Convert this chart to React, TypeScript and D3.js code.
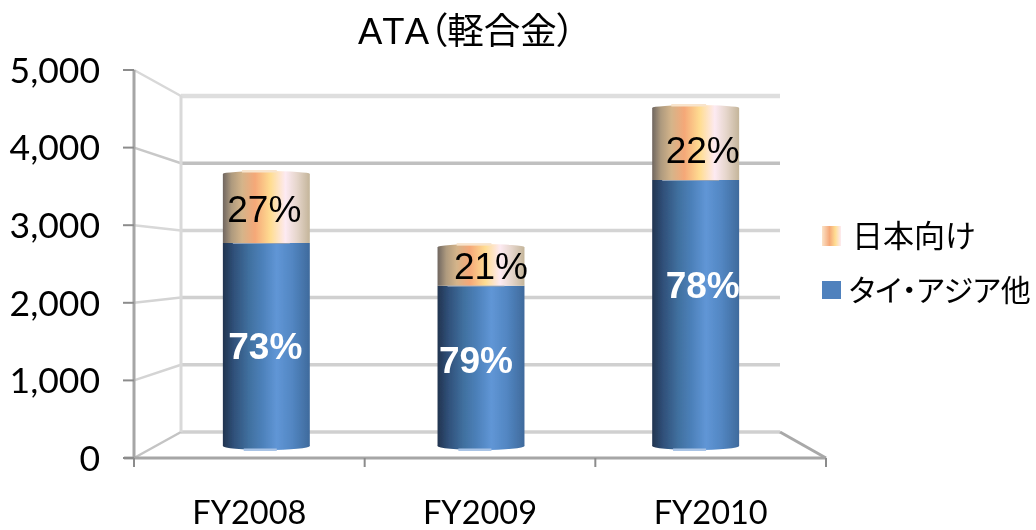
import React from "react";
import * as d3 from "d3";

const titleLatin = "ATA";
const titleCjk = "（軽合金）";
const categories = ["FY2008", "FY2009", "FY2010"];
const asiaValues = [2760, 2190, 3600];
const japanValues = [960, 555, 1000];
const asiaLabels = ["73%", "79%", "78%"];
const japanLabels = ["27%", "21%", "22%"];
const yTicks = [0, 1000, 2000, 3000, 4000, 5000];
const legendJapan = "日本向け";
const legendAsia = "タイ・アジア他";

const LATIN = "Lato, 'Noto Sans CJK JP', sans-serif";
const ARIAL = "'Liberation Sans', Arial, 'Noto Sans CJK JP', sans-serif";
const CJK = "'Noto Sans CJK JP', sans-serif";

const blueStops: [number, string][] = [
  [0, "#22344f"], [0.12, "#2f4f78"], [0.3, "#40709f"], [0.45, "#4c80b9"],
  [0.62, "#6096d6"], [0.8, "#5286c2"], [1, "#3f6a9c"],
];
const orangeStops: [number, string][] = [
  [0, "#6f6660"], [0.1, "#ae9a7e"], [0.22, "#d4b48a"], [0.37, "#f5a878"],
  [0.55, "#ffdd92"], [0.72, "#fdeaf2"], [0.85, "#e6d6cc"], [1, "#c4b59a"],
];

const frontY = d3.scaleLinear().domain([0, 5000]).range([458, 70]);
const backY = d3.scaleLinear().domain([0, 5000]).range([432, 96]);
const barY = d3.scaleLinear().domain([0, 5000]).range([450, 75]);
const barX = d3.scaleBand<string>().domain(categories).range([159, 803]).paddingInner(0.595).paddingOuter(0.2975);
const axisX = d3.scaleBand<string>().domain(categories).range([134, 826]);

const gridColors = ["#d0d0d0", "#d0d0d0", "#d0d0d0", "#d4d4d4", "#c0c0c0", "#dedede"];
const sideColors = ["#c4c4c4", "#d4d4d4", "#d4d4d4", "#d8d8d8", "#c8c8c8", "#d8d8d8"];
const asiaOffsets = [[-1, -1], [-5, -8], [7, -30]];
const japanOffsets = [[-2, 2], [10, 1], [7, 7]];

function Stops({ stops }: { stops: [number, string][] }) {
  return <>{stops.map(([o, c]) => <stop key={o} offset={o} stopColor={c} />)}</>;
}

export default function App() {
  const bw = barX.bandwidth();
  return (
    <svg width={1036} height={530} style={{ position: "absolute", left: 0, top: 0, background: "#fff" }}>
      <defs>
        <linearGradient id="blue"><Stops stops={blueStops} /></linearGradient>
        <linearGradient id="orange"><Stops stops={orangeStops} /></linearGradient>
        <linearGradient id="legendOrange">
          <stop offset={0} stopColor="#fbe3c8" />
          <stop offset={0.4} stopColor="#f5a878" />
          <stop offset={0.7} stopColor="#ffdd92" />
          <stop offset={1} stopColor="#fdeaf2" />
        </linearGradient>
        <filter id="soft" x="-5%" y="-5%" width="110%" height="110%">
          <feGaussianBlur stdDeviation={0.45} />
        </filter>
      </defs>

      <g filter="url(#soft)">
        {yTicks.map((t, i) => (
          <g key={t} fill="none">
            <line x1={181} x2={780} y1={backY(t)} y2={backY(t)} stroke={gridColors[i]} strokeWidth={i === 5 ? 4.5 : 3.5} />
            <line x1={134} x2={181} y1={frontY(t)} y2={backY(t)} stroke={sideColors[i]} strokeWidth={2.5} />
          </g>
        ))}
        <line x1={181} x2={181} y1={backY(5000)} y2={backY(0)} stroke="#d9d9d9" strokeWidth={3} />
        <line x1={780} x2={826} y1={backY(0)} y2={frontY(0)} stroke="#a9a9a9" strokeWidth={3} />

        <line x1={134} x2={134} y1={frontY(5000)} y2={frontY(0)} stroke="#a6a6a6" strokeWidth={3} />
        <line x1={124} x2={826} y1={frontY(0)} y2={frontY(0)} stroke="#a6a6a6" strokeWidth={3} />
        {yTicks.map((t) => (
          <line key={t} x1={123} x2={134} y1={frontY(t)} y2={frontY(t)} stroke="#8c8c8c" strokeWidth={2} />
        ))}
        {[...categories.map((c) => axisX(c) as number), 826].map((x) => (
          <line key={x} x1={x} x2={x} y1={frontY(0)} y2={frontY(0) + 9} stroke="#8c8c8c" strokeWidth={2} />
        ))}

        {categories.map((c, i) => {
          const x = barX(c) as number;
          const mid = x + bw / 2;
          const y0 = barY(0);
          const y1 = barY(asiaValues[i]);
          const y2 = barY(asiaValues[i] + japanValues[i]);
          return (
            <g key={c}>
              <ellipse cx={mid} cy={y0 - 4} rx={bw / 2} ry={4} fill="url(#blue)" />
              <rect x={x + bw * 0.24} y={y0 - 1.5} width={bw * 0.38} height={2.5} fill="#a9c4e6" />
              <rect x={x} y={y1} width={bw} height={y0 - y1 - 4} fill="url(#blue)" />
              <rect x={x} y={y2 + 3} width={bw} height={y1 - y2 - 3} fill="url(#orange)" />
              <ellipse cx={mid} cy={y2 + 3} rx={bw / 2} ry={3} fill="url(#orange)" />
              <rect x={x + bw * 0.22} y={y2 - 1} width={bw * 0.4} height={2.5} fill="#f8e4cc" />
              <line x1={x + 10} x2={x + bw - 20} y1={y1 + 0.5} y2={y1 + 0.5} stroke="#8f9fb5" strokeWidth={1.2} />
            </g>
          );
        })}
      </g>

      <g filter="url(#soft)">
        {yTicks.map((t) => (
          <text key={t} x={100} y={frontY(t)} dy="0.36em" textAnchor="end" fontFamily={LATIN} fontSize={35.5} fill="#000">
            {d3.format(",")(t)}
          </text>
        ))}
        {categories.map((c) => (
          <text key={c} x={(axisX(c) as number) + axisX.bandwidth() / 2} y={524} textAnchor="middle" fontFamily={LATIN} fontSize={32.5} fill="#000">
            {c}
          </text>
        ))}

        {categories.map((c, i) => {
          const mid = (barX(c) as number) + bw / 2;
          const y0 = barY(0), y1 = barY(asiaValues[i]), y2 = barY(asiaValues[i] + japanValues[i]);
          return (
            <g key={c} fontFamily={ARIAL} fontSize={37} textAnchor="middle">
              <text x={mid + japanOffsets[i][0]} y={(y1 + y2) / 2 + japanOffsets[i][1]} dy="0.36em" fill="#000">{japanLabels[i]}</text>
              <text x={mid + asiaOffsets[i][0]} y={(y0 + y1) / 2 + asiaOffsets[i][1]} dy="0.36em" fill="#fff" fontWeight="bold">{asiaLabels[i]}</text>
            </g>
          );
        })}

        <text x={358} y={44} fontFamily={ARIAL} fontSize={36.5} fill="#000" style={{ fontFeatureSettings: "'palt'", fontKerning: "none" }}>
          {titleLatin}{titleCjk}
        </text>

        <rect x={822} y={226} width={19} height={20} fill="url(#legendOrange)" />
        <text x={852} y={247} fontFamily={CJK} fontSize={31} fill="#000">{legendJapan}</text>
        <rect x={822} y={281} width={19} height={18} fill="#4f81bd" />
        <text x={849} y={301} fontFamily={CJK} fontSize={30} fill="#000" style={{ fontFeatureSettings: "'palt'" }}>{legendAsia}</text>
      </g>
    </svg>
  );
}
